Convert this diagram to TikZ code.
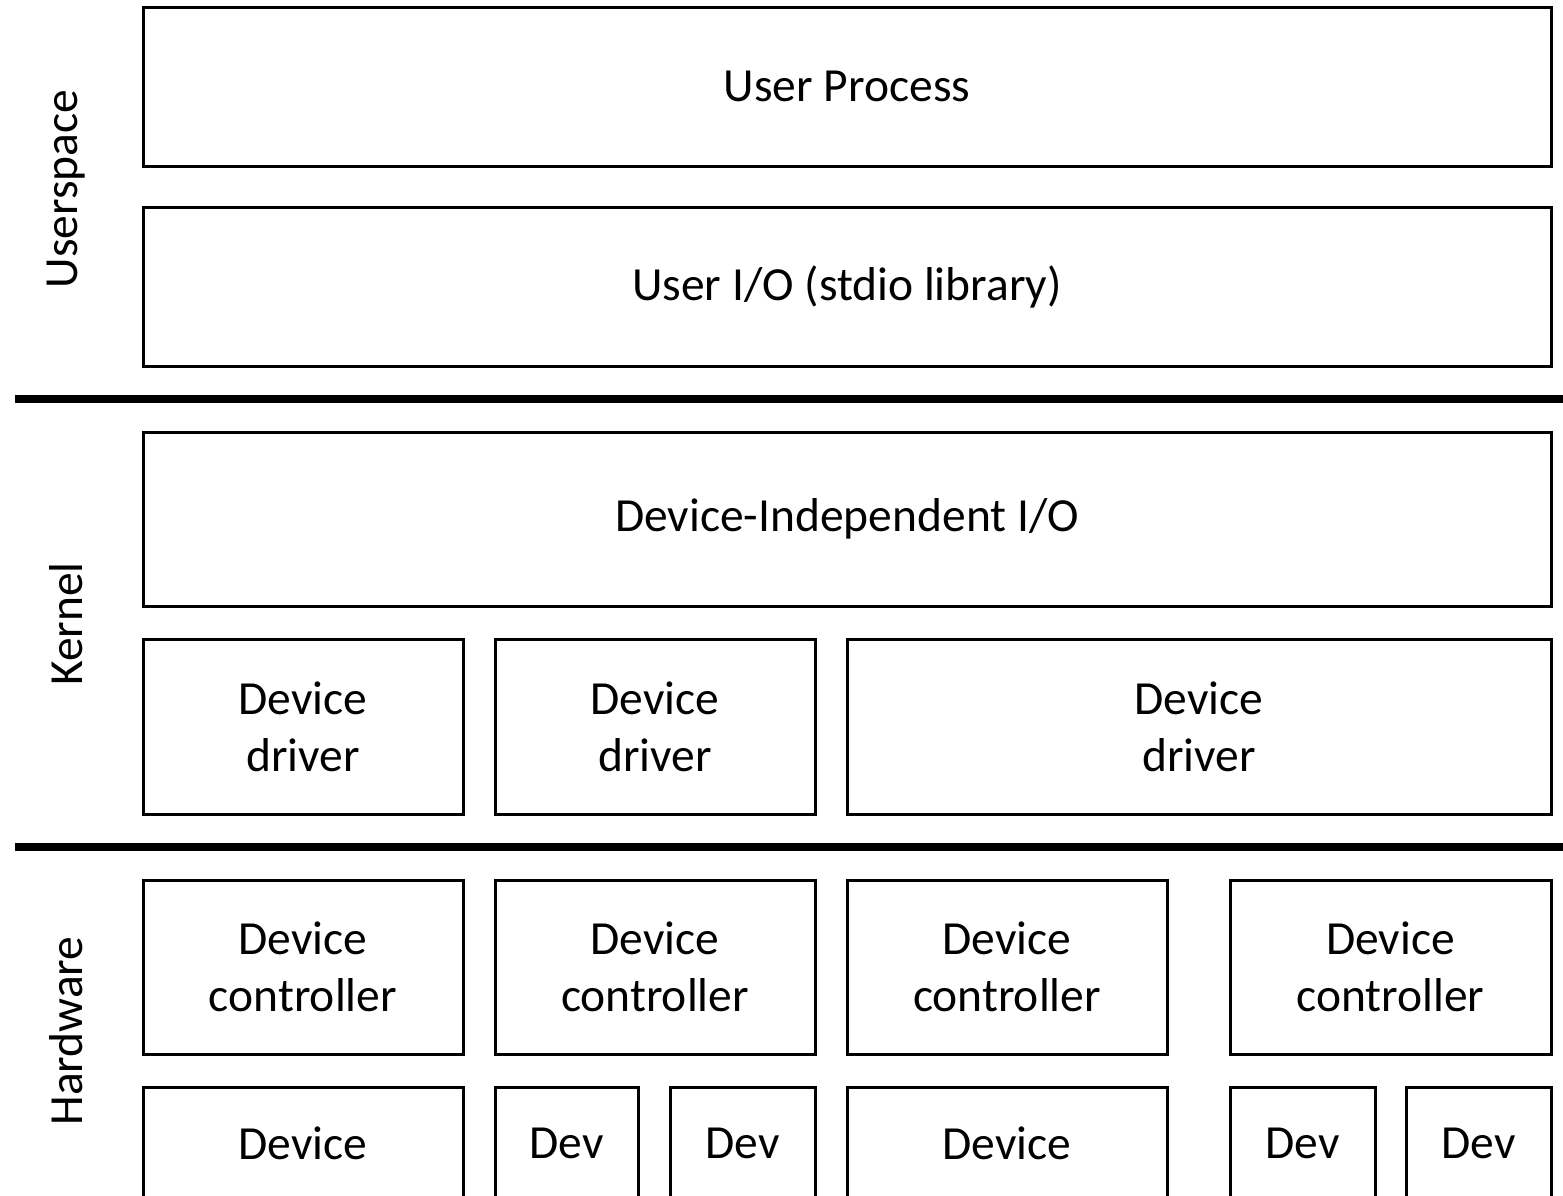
\documentclass[tikz,border=0pt]{standalone}
\usepackage{fontspec}
\setmainfont{Carlito}

\begin{document}
\begin{tikzpicture}[x=1pt,y=-1pt,
    layer/.style={draw,line width=3pt,inner sep=0pt,align=center,
      font=\fontsize{47.5}{57}\selectfont},
    sidelabel/.style={rotate=90,font=\fontsize{47.5}{57}\selectfont},
    divider/.style={line width=8pt}]
  \useasboundingbox (0,0) rectangle (1563,1195);
  % userspace
  \node[layer,minimum width=1408,minimum height=159] (proc) at (847,86.5) {User Process};
  \node[layer,minimum width=1408,minimum height=159] (stdio) at (847,286.5) {User I/O (stdio library)};
  % kernel
  \node[layer,minimum width=1408,minimum height=174] (indep) at (847,519) {Device-Independent I/O};
  \node[layer,minimum width=320,minimum height=175] (drv1) at (303,726.5) {Device\\driver};
  \node[layer,minimum width=320,minimum height=175] (drv2) at (655,726.5) {Device\\driver};
  \node[layer,minimum width=704,minimum height=175] (drv3) at (1199,726.5) {Device\\driver};
  % hardware
  \node[layer,minimum width=320,minimum height=174] (ctl1) at (303,967) {Device\\controller};
  \node[layer,minimum width=320,minimum height=174] (ctl2) at (655,967) {Device\\controller};
  \node[layer,minimum width=320,minimum height=174] (ctl3) at (1007,967) {Device\\controller};
  \node[layer,minimum width=321,minimum height=174] (ctl4) at (1390.5,967) {Device\\controller};
  \node[layer,minimum width=320,minimum height=112] (dev1) at (303,1143) {Device};
  \node[layer,minimum width=143,minimum height=112] (dev2) at (566.5,1143) {Dev};
  \node[layer,minimum width=145,minimum height=112] (dev3) at (742.5,1143) {Dev};
  \node[layer,minimum width=320,minimum height=112] (dev4) at (1007,1143) {Device};
  \node[layer,minimum width=145,minimum height=112] (dev5) at (1302.5,1143) {Dev};
  \node[layer,minimum width=145,minimum height=112] (dev6) at (1478.5,1143) {Dev};
  % dividers
  \draw[divider] (15,399) -- (1563,399);
  \draw[divider] (15,847) -- (1563,847);
  % side labels
  \node[sidelabel] (user) at (66,189) {Userspace};
  \node[sidelabel] (kern) at (66,624) {Kernel};
  \node[sidelabel] (hw) at (66,1031) {Hardware};
\end{tikzpicture}
\end{document}
